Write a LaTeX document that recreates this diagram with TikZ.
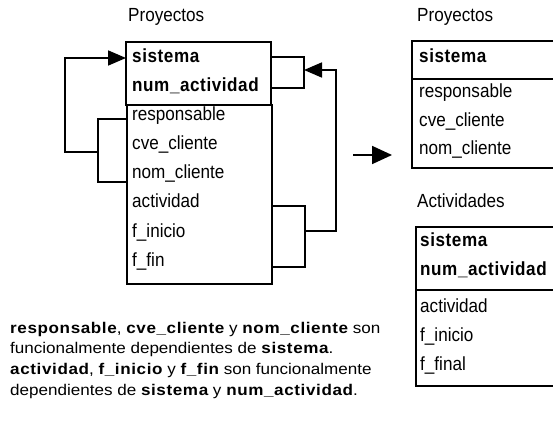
\documentclass[tikz,border=0pt]{standalone}
\usepackage{fontspec}
\setmainfont{Liberation Sans}
% table lettering: tall and narrow
\newfontfamily\tabfont{Liberation Sans}[FakeStretch=0.9]
\newfontfamily\tabkeyfont{Liberation Sans}[FakeStretch=0.9,LetterSpace=3]
% note lettering: short and wide
\newfontfamily\notefont{Liberation Sans}[FakeStretch=1.1]
\newfontfamily\notekeyfont{Liberation Sans}[FakeStretch=1.1,LetterSpace=4]
\newcommand{\tk}[1]{{\tabkeyfont\bfseries #1}}
\newcommand{\nk}[1]{{\notekeyfont\bfseries #1}}
\usetikzlibrary{arrows.meta}
\begin{document}
\begin{tikzpicture}[x=1pt,y=-1pt,
  box/.style={draw,line width=1.8pt},
  conn/.style={line width=1.8pt},
  head/.style={-{Triangle[length=18pt,width=15pt]}},
  field/.style={anchor=base west,inner sep=0pt,font=\tabfont\fontsize{19}{22}\selectfont},
  title/.style={anchor=base west,inner sep=0pt,font=\tabfont\fontsize{19}{22}\selectfont},
  note/.style={anchor=base west,inner sep=0pt,font=\notefont\fontsize{15.5}{21}\selectfont}]
\useasboundingbox (0,0) rectangle (553,427);
\clip (0,0) rectangle (553,427);

% ---- Proyectos (original table) ----
\node[title] (t1) at (128,22) {Proyectos};
\draw[box] (126,42) rectangle (271,105);
\draw[box] (127,105) rectangle (272,284);
\node[field] (a1) at (132,63) {\tk{sistema}};
\node[field] (a2) at (132,92) {\tk{num\_actividad}};
\node[field] (a3) at (132,121) {responsable};
\node[field] (a4) at (132,150) {cve\_cliente};
\node[field] (a5) at (132,179) {nom\_cliente};
\node[field] (a6) at (132,208) {actividad};
\node[field] (a7) at (132,237) {f\_inicio};
\node[field] (a8) at (132,266) {f\_fin};

% dependency on sistema
\coordinate (lk) at (126,58);
\coordinate (lb1) at (127,119);
\coordinate (lb2) at (127,182);
\coordinate (lbx) at (98,152);
\coordinate (lout) at (65,152);
\draw[conn] (lb1) -- (98,119) -- (98,182) -- (lb2);
\draw[conn,head] (lbx) -- (lout) |- (lk);

% dependency on sistema + num_actividad
\coordinate (rk1) at (271,57);
\coordinate (rk2) at (271,88);
\coordinate (rkx) at (304,70);
\coordinate (rb1) at (272,206);
\coordinate (rb2) at (272,267);
\coordinate (rbx) at (305,231);
\coordinate (rout) at (336,231);
\draw[conn] (rk1) -- (304,57) -- (304,88) -- (rk2);
\draw[conn] (rb1) -- (305,206) -- (305,267) -- (rb2);
\draw[conn,head] (rbx) -- (rout) |- (rkx);

% transformation arrow
\coordinate (m1) at (353,155);
\coordinate (m2) at (392,155);
\draw[conn,-{Triangle[length=20pt,width=18pt]}] (m1) -- (m2);

% ---- Proyectos (normalised) ----
\node[title] (t2) at (417,22) {Proyectos};
\draw[box] (412,41) rectangle (560,79);
\draw[box] (412,79) rectangle (560,168);
\node[field] (b1) at (419,63) {\tk{sistema}};
\node[field] (b2) at (419,98) {responsable};
\node[field] (b3) at (419,127) {cve\_cliente};
\node[field] (b4) at (419,155) {nom\_cliente};

% ---- Actividades ----
\node[title] (t3) at (417,208) {Actividades};
\draw[box] (416,227) rectangle (560,290);
\draw[box] (416,290) rectangle (560,386);
\node[field] (c1) at (420,247) {\tk{sistema}};
\node[field] (c2) at (420,275) {\tk{num\_actividad}};
\node[field] (c3) at (420,312) {actividad};
\node[field] (c4) at (420,341) {f\_inicio};
\node[field] (c5) at (420,370) {f\_final};

% ---- explanation ----
\node[note] (n1) at (10,333) {\nk{responsable}, \nk{cve\_cliente} y \nk{nom\_cliente} son};
\node[note] (n2) at (10,353) {funcionalmente dependientes de \nk{sistema}.};
\node[note] (n3) at (10,374) {\nk{actividad}, \nk{f\_inicio} y \nk{f\_fin} son funcionalmente};
\node[note] (n4) at (10,395) {dependientes de \nk{sistema} y \nk{num\_actividad}.};
\end{tikzpicture}
\end{document}
